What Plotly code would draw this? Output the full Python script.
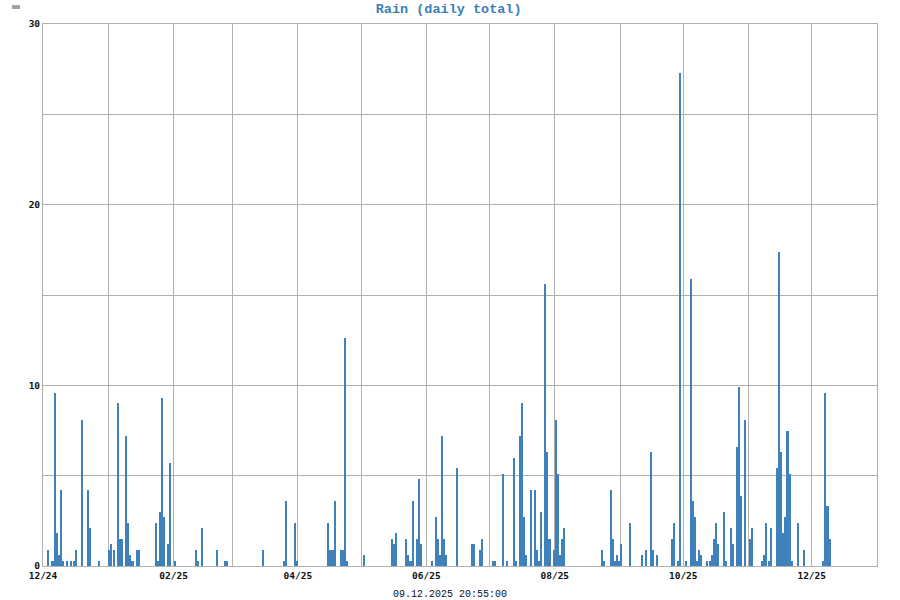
import pandas as pd
import plotly.graph_objects as go

dates = [
    "2024-12-03", "2024-12-05", "2024-12-06", "2024-12-07", "2024-12-08", "2024-12-09", "2024-12-10",
    "2024-12-12", "2024-12-14", "2024-12-15", "2024-12-16", "2024-12-19", "2024-12-22", "2024-12-23",
    "2024-12-27",
    "2025-01-01", "2025-01-02", "2025-01-03", "2025-01-05", "2025-01-06", "2025-01-07", "2025-01-09",
    "2025-01-10", "2025-01-11", "2025-01-12", "2025-01-14", "2025-01-15", "2025-01-23", "2025-01-24",
    "2025-01-25", "2025-01-26", "2025-01-27", "2025-01-29", "2025-01-30",
    "2025-02-01", "2025-02-11", "2025-02-12", "2025-02-14", "2025-02-21", "2025-02-25", "2025-02-26",
    "2025-03-15", "2025-03-25", "2025-03-26", "2025-03-30", "2025-03-31",
    "2025-04-15", "2025-04-16", "2025-04-17", "2025-04-18", "2025-04-21", "2025-04-22", "2025-04-23",
    "2025-04-24",
    "2025-05-02", "2025-05-15", "2025-05-16", "2025-05-17", "2025-05-22", "2025-05-23", "2025-05-24",
    "2025-05-25", "2025-05-27", "2025-05-28", "2025-05-29",
    "2025-06-03", "2025-06-05", "2025-06-06", "2025-06-07", "2025-06-08", "2025-06-09", "2025-06-10",
    "2025-06-15", "2025-06-22", "2025-06-23", "2025-06-26", "2025-06-27",
    "2025-07-02", "2025-07-03", "2025-07-07", "2025-07-09", "2025-07-12", "2025-07-13", "2025-07-15",
    "2025-07-16", "2025-07-17", "2025-07-18", "2025-07-20", "2025-07-22", "2025-07-23", "2025-07-24",
    "2025-07-25", "2025-07-27", "2025-07-28", "2025-07-29", "2025-07-31",
    "2025-08-01", "2025-08-02", "2025-08-03", "2025-08-04", "2025-08-05", "2025-08-23", "2025-08-24",
    "2025-08-27", "2025-08-28", "2025-08-29", "2025-08-30", "2025-08-31",
    "2025-09-01", "2025-09-05", "2025-09-11", "2025-09-13", "2025-09-15", "2025-09-16", "2025-09-18",
    "2025-09-25", "2025-09-26", "2025-09-28", "2025-09-29",
    "2025-10-02", "2025-10-04", "2025-10-05", "2025-10-06", "2025-10-07", "2025-10-08", "2025-10-09",
    "2025-10-12", "2025-10-13", "2025-10-14", "2025-10-15", "2025-10-16", "2025-10-17", "2025-10-20",
    "2025-10-21", "2025-10-23", "2025-10-24", "2025-10-26", "2025-10-27", "2025-10-28", "2025-10-30",
    "2025-11-01", "2025-11-02", "2025-11-07", "2025-11-08", "2025-11-09", "2025-11-10", "2025-11-11",
    "2025-11-14", "2025-11-15", "2025-11-16", "2025-11-17", "2025-11-18", "2025-11-19", "2025-11-20",
    "2025-11-21", "2025-11-24", "2025-11-27",
    "2025-12-06", "2025-12-07", "2025-12-08", "2025-12-09",
]

rain_mm = [
    0.9, 0.3, 9.6, 1.8, 0.6, 4.2, 0.3,
    0.3, 0.3, 0.3, 0.9, 8.1, 4.2, 2.1,
    0.3,
    0.9, 1.2, 0.9, 9.0, 1.5, 1.5, 7.2,
    2.4, 0.6, 0.3, 0.9, 0.9, 2.4, 0.3,
    3.0, 9.3, 2.7, 1.2, 5.7,
    0.3, 0.9, 0.3, 2.1, 0.9, 0.3, 0.3,
    0.9, 0.3, 3.6, 2.4, 0.3,
    2.4, 0.9, 0.9, 3.6, 0.9, 0.9, 12.6,
    0.3,
    0.6, 1.5, 1.2, 1.8, 1.5, 0.6, 0.3,
    3.6, 1.5, 4.8, 1.2,
    0.3, 2.7, 1.5, 0.6, 7.2, 1.5, 0.6,
    5.4, 1.2, 1.2, 0.9, 1.5,
    0.3, 0.3, 5.1, 0.3, 6.0, 0.3, 7.2,
    9.0, 2.7, 0.6, 4.2, 4.2, 0.9, 0.3,
    3.0, 15.6, 6.3, 1.5, 0.9,
    8.1, 5.1, 0.6, 1.5, 2.1, 0.9, 0.3,
    4.2, 1.5, 0.3, 0.6, 0.3,
    1.2, 2.4, 0.6, 0.9, 6.3, 0.9, 0.6,
    1.5, 2.4, 0.3, 27.3,
    0.3, 15.9, 3.6, 2.7, 0.3, 0.9, 0.6,
    0.3, 0.3, 0.6, 1.5, 2.4, 1.2, 3.0,
    0.3, 2.1, 1.2, 6.6, 9.9, 3.9, 8.1,
    1.5, 2.1, 0.3, 0.6, 2.4, 0.3, 2.1,
    5.4, 17.4, 6.3, 1.8, 2.7, 7.5, 5.1,
    0.3, 2.4, 0.9,
    0.3, 9.6, 3.3, 1.5,
]

title_text = "Rain (daily total)"
unit_text = "mm"
timestamp_text = "09.12.2025 20:55:00"
x_start = "2024-12-01"
x_end = "2026-01-01"

bar_color = "#4080bb"
grid_color = "#b0b0b0"
mono = "Liberation Mono, Courier New, monospace"
tick_font = "DejaVu Sans Mono, monospace"

# each daily total spans its whole day (centre at noon)
x_vals = pd.to_datetime(dates) + pd.Timedelta(hours=12)

fig = go.Figure()
fig.add_trace(go.Bar(
    x=x_vals,
    y=rain_mm,
    width=86400000 * 0.98,
    marker=dict(color=bar_color, line=dict(width=0)),
    hoverinfo="x+y",
))

fig.update_layout(
    width=900,
    height=600,
    margin=dict(l=43, r=23, t=24, b=34),
    paper_bgcolor="white",
    plot_bgcolor="white",
    showlegend=False,
    bargap=0,
    title=dict(
        text=title_text,
        x=0.4985,
        xanchor="center",
        y=1 - 8 / 600,
        yanchor="middle",
        font=dict(family=mono, size=13.5, color="#3b7db8", weight="bold"),
    ),
    xaxis=dict(
        type="date",
        range=[x_start, x_end],
        tick0=x_start,
        dtick="M2",
        tickformat="%m/%y",
        showgrid=True,
        gridcolor=grid_color,
        gridwidth=1,
        minor=dict(dtick="M1", tick0=x_start, showgrid=True, gridcolor=grid_color, gridwidth=1),
        showline=True,
        linecolor=grid_color,
        linewidth=1,
        mirror=True,
        ticks="",
        ticklabelstandoff=1,
        tickfont=dict(family=tick_font, size=9.5, color="#111111", weight="bold"),
        zeroline=False,
        fixedrange=True,
    ),
    yaxis=dict(
        range=[0, 30],
        dtick=10,
        tick0=0,
        showgrid=True,
        gridcolor=grid_color,
        gridwidth=1,
        minor=dict(dtick=5, tick0=0, showgrid=True, gridcolor=grid_color, gridwidth=1),
        showline=True,
        linecolor=grid_color,
        linewidth=1,
        mirror=True,
        ticks="",
        tickfont=dict(family=tick_font, size=9.5, color="#111111", weight="bold"),
        zeroline=False,
        fixedrange=True,
    ),
    annotations=[
        dict(
            text=unit_text, xref="paper", yref="paper",
            x=(16 - 43) / 834, y=(566 - 7) / 542,
            xanchor="center", yanchor="middle", showarrow=False,
            font=dict(family=tick_font, size=6.5, color="#111111"),
        ),
        dict(
            text=timestamp_text, xref="paper", yref="paper",
            x=(450 - 43) / 834, y=(566 - 594) / 542,
            xanchor="center", yanchor="middle", showarrow=False,
            font=dict(family=mono, size=10, color="#111111"),
        ),
    ],
)

fig.write_html(
    "out.html",
    config={"displayModeBar": False},
    post_script="document.body.style.margin='0';document.body.style.padding='0';",
)
